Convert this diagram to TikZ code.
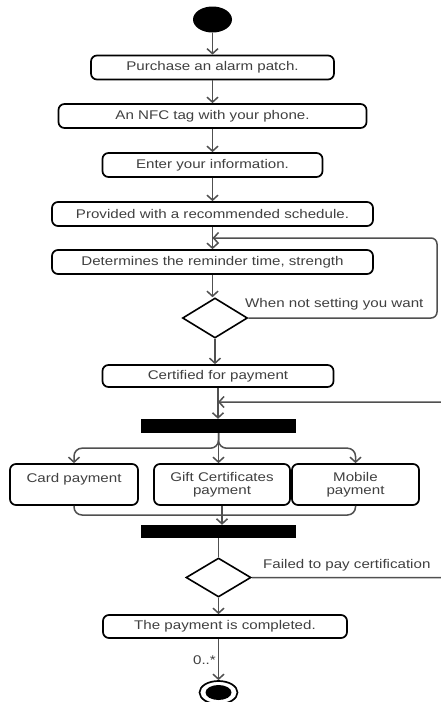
\documentclass[tikz,border=0pt]{standalone}
\usepackage{fontspec}
\setmainfont{Liberation Sans}[FakeStretch=1.2]
\usetikzlibrary{shapes.geometric, arrows.meta}
\definecolor{txtgray}{HTML}{404040}
\definecolor{linegray}{HTML}{505050}

\begin{document}
\begin{tikzpicture}[x=1pt, y=-1pt,
        every node/.style={font=\fontsize{12.6}{12.5}\selectfont, text=txtgray},
        act/.style={draw=black, line width=1.7pt, rounded corners=6pt, minimum height=24pt, inner sep=0pt},
        bar/.style={fill=black, minimum width=155pt, minimum height=14pt, inner sep=0pt},
        choice/.style={diamond, draw=black, line width=1.6pt, minimum width=65pt, minimum height=40pt, inner sep=0pt},
        flow/.style={draw=linegray, line width=1.5pt, -{Straight Barb[length=5pt,width=11pt]}},
        link/.style={draw=linegray, line width=1.5pt}]
    \useasboundingbox[fill=white] (0,0) rectangle (441,702);

    % start and activities
    \node[ellipse, fill=black, minimum width=39pt, minimum height=26pt, inner sep=0pt] (start) at (212.5,19.5) {};
    \node[act, minimum width=243pt] (purchase) at (212.5,67.5) {Purchase an alarm patch.};
    \node[act, minimum width=308pt] (nfc) at (212.5,116) {An NFC tag with your phone.};
    \node[act, minimum width=220pt] (enter) at (212.5,165) {Enter your information.};
    \node[act, minimum width=321pt] (schedule) at (212.5,214) {Provided with a recommended schedule.};
    \node[act, minimum width=321pt] (remind) at (212.5,262) {Determines the reminder time, strength};
    \node[choice] (check) at (215,318) {};
    \node[act, minimum width=231pt, minimum height=22pt] (certify) at (218,376) {Certified for payment};
    \node[bar] (fork) at (218.5,426) {};
    \node[act, minimum width=128pt, minimum height=41pt, align=center] (card) at (74,484.5) {Card payment\\\mbox{}};
    \node[act, minimum width=136pt, minimum height=41pt, align=center] (gift) at (222,484.5) {Gift Certificates\\payment};
    \node[act, minimum width=127pt, minimum height=41pt, align=center] (mobile) at (355.5,484.5) {Mobile\\payment};
    \node[bar, minimum height=13pt] (join) at (218.5,531.5) {};
    \node[choice, minimum height=39pt] (paid) at (218.5,577.5) {};
    \node[act, minimum width=244pt, minimum height=23pt] (done) at (225,626.5) {The payment is completed.};
    \node[ellipse, draw=black, line width=1.7pt, minimum width=38pt, minimum height=23pt, inner sep=0pt] (stop) at (218.5,692.5) {};
    \node[ellipse, fill=black, minimum width=26pt, minimum height=15pt, inner sep=0pt] (stopdot) at (stop) {};

    % guard labels
    \node[anchor=base west, inner sep=0pt] (retry) at (245,307.5) {When not setting you want};
    \node[anchor=base west, inner sep=0pt] (failed) at (263,568) {Failed to pay certification};
    \node[anchor=base east, inner sep=0pt] (mult) at (216,664) {0..*};

    % main flow
    \draw[flow] (start) -- (purchase);
    \draw[flow] (purchase) -- (nfc);
    \draw[flow] (nfc) -- (enter);
    \draw[flow] (enter) -- (schedule);
    \draw[flow] (schedule) -- (remind);
    \draw[flow] (remind.south) -- (remind.south |- check.north);
    \draw[flow] (check.south) -- (check.south |- certify.north);
    \draw[flow] (certify.south) -- (certify.south |- fork.north);

    % loops back
    \coordinate (back) at (212.5,238);
    \draw[flow, rounded corners=6pt] (check.east) -- (437,318) -- (437,238) -- (back);
    \coordinate (again) at (218,402);
    \draw[flow, rounded corners=6pt] (paid.east) -- (450,577.5) -- (450,402) -- (again);

    % fork and join
    \draw[flow, rounded corners=8pt] (fork.south) -- ++(0,15) -| (card.north);
    \draw[flow] (fork.south) -- (fork.south |- gift.north);
    \draw[flow, rounded corners=8pt] (fork.south) -- ++(0,15) -| (mobile.north);
    \coordinate (merge) at (222,515);
    \draw[link, rounded corners=8pt] (card.south) |- (merge);
    \draw[link, rounded corners=8pt] (mobile.south) |- (merge);
    \draw[flow] (gift.south) -- (gift.south |- join.north);
    \draw[link] (join) -- (paid);
    \draw[flow] (paid.south) -- (paid.south |- done.north);
    \draw[flow] (stop.north |- done.south) -- (stop);
\end{tikzpicture}
\end{document}
